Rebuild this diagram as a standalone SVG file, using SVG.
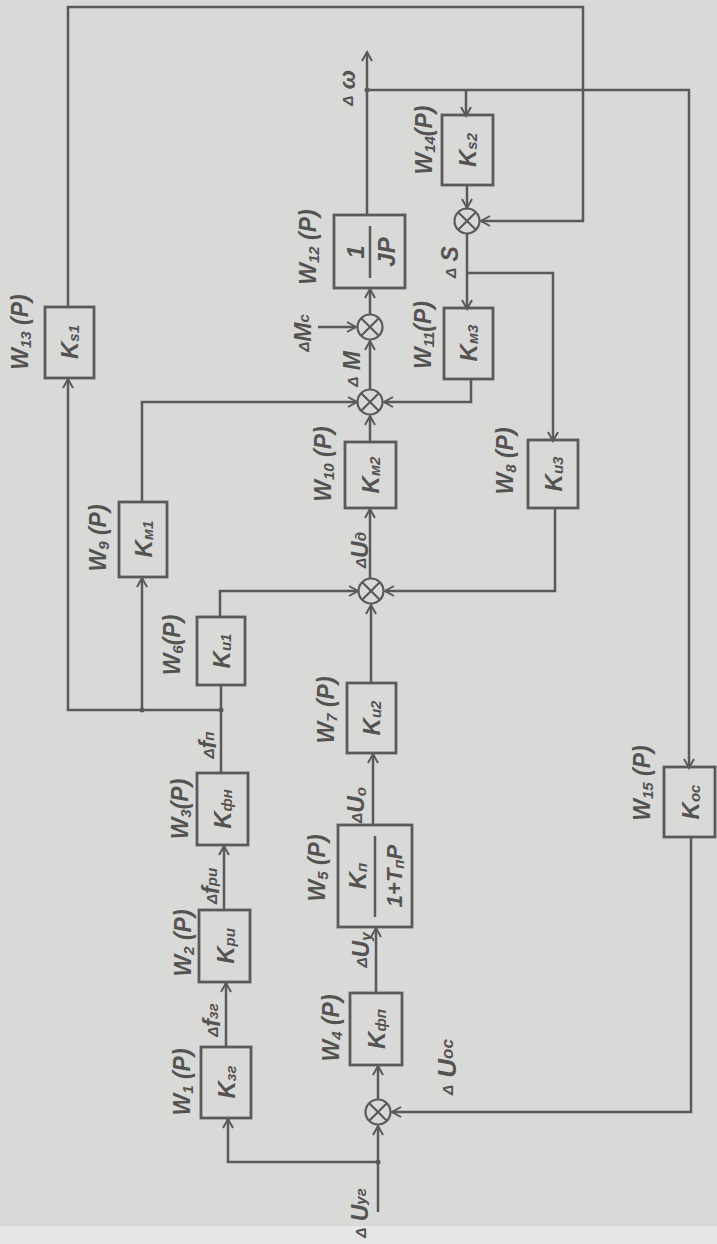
<svg xmlns="http://www.w3.org/2000/svg" width="717" height="1244" viewBox="0 0 717 1244">
<defs>
<style>
.bg{fill:#d9d9d7}
.ln{fill:none;stroke:#5a5a5a;stroke-width:2.5;stroke-linejoin:miter}
.bx{fill:none;stroke:#5a5a5a;stroke-width:2.8}
.sum{fill:none;stroke:#5a5a5a;stroke-width:2.2}
.dot{fill:#5a5a5a}
.t{font-family:"Liberation Sans",Arial,sans-serif;font-style:italic;font-weight:bold;fill:#535353;font-size:23px;text-anchor:middle;dominant-baseline:central}
.k{font-size:24px}
.s{font-size:15px}
.d{font-size:15px}
</style>
<marker id="a" markerUnits="userSpaceOnUse" markerWidth="14" markerHeight="14" refX="10" refY="6" orient="auto">
<path d="M1,1 L10,6 L1,11" fill="none" stroke="#5a5a5a" stroke-width="2"/>
</marker>
</defs>
<rect class="bg" x="0" y="0" width="717" height="1244"/>
<rect x="0" y="1226" width="717" height="18" fill="#e6e6e4"/>

<g id="connectors">
<path class="ln" d="M378,1212 L378,1126" marker-end="url(#a)"/>
<path class="ln" d="M378,1162 L228,1162 L228,1119" marker-end="url(#a)"/>
<path class="ln" d="M226,1047 L226,983" marker-end="url(#a)"/>
<path class="ln" d="M224,910 L224,846" marker-end="url(#a)"/>
<path class="ln" d="M221,773 L221,685"/>
<path class="ln" d="M221,710 L68,710 L68,379" marker-end="url(#a)"/>
<path class="ln" d="M142,710 L142,578" marker-end="url(#a)"/>
<path class="ln" d="M68,307 L68,7 L583,7 L583,221 L481,221" marker-end="url(#a)"/>
<path class="ln" d="M142,502 L142,402 L357,402" marker-end="url(#a)"/>
<path class="ln" d="M220,617 L220,591 L358,591" marker-end="url(#a)"/>
<path class="ln" d="M555,508 L555,591 L385,591" marker-end="url(#a)"/>
<path class="ln" d="M371,683 L371,605" marker-end="url(#a)"/>
<path class="ln" d="M373,825 L373,754" marker-end="url(#a)"/>
<path class="ln" d="M376,993 L376,928" marker-end="url(#a)"/>
<path class="ln" d="M378,1099 L378,1066" marker-end="url(#a)"/>
<path class="ln" d="M370,578 L370,509" marker-end="url(#a)"/>
<path class="ln" d="M370,442 L370,416" marker-end="url(#a)"/>
<path class="ln" d="M471,379 L471,402 L384,402" marker-end="url(#a)"/>
<path class="ln" d="M370,389 L370,341" marker-end="url(#a)"/>
<path class="ln" d="M318,327 L356,327" marker-end="url(#a)"/>
<path class="ln" d="M370,314 L370,289" marker-end="url(#a)"/>
<path class="ln" d="M367,215 L367,52" marker-end="url(#a)"/>
<path class="ln" d="M367,90 L689,90 L689,768" marker-end="url(#a)"/>
<path class="ln" d="M466,90 L466,116" marker-end="url(#a)"/>
<path class="ln" d="M467,185 L467,208" marker-end="url(#a)"/>
<path class="ln" d="M467,234 L467,309" marker-end="url(#a)"/>
<path class="ln" d="M467,273 L553,273 L553,441" marker-end="url(#a)"/>
<path class="ln" d="M691,837 L691,1112 L392,1112" marker-end="url(#a)"/>
<circle class="dot" cx="221" cy="710" r="2.5"/>
<circle class="dot" cx="142" cy="710" r="2.5"/>
<circle class="dot" cx="378" cy="1162" r="2.5"/>
<circle class="dot" cx="367" cy="90" r="2.5"/>
</g>

<g id="sum_dS"><circle class="sum" cx="467" cy="221" r="12.5"/><path class="sum" d="M458.2,212.2 L475.8,229.8 M475.8,212.2 L458.2,229.8"/></g>
<g id="sum_dMc"><circle class="sum" cx="370" cy="327" r="12.5"/><path class="sum" d="M361.2,318.2 L378.8,335.8 M378.8,318.2 L361.2,335.8"/></g>
<g id="sum_dM"><circle class="sum" cx="370" cy="402" r="12.5"/><path class="sum" d="M361.2,393.2 L378.8,410.8 M378.8,393.2 L361.2,410.8"/></g>
<g id="sum_dUd"><circle class="sum" cx="371" cy="591" r="12.5"/><path class="sum" d="M362.2,582.2 L379.8,599.8 M379.8,582.2 L362.2,599.8"/></g>
<g id="sum_in"><circle class="sum" cx="378" cy="1112" r="12.5"/><path class="sum" d="M369.2,1103.2 L386.8,1120.8 M386.8,1103.2 L369.2,1120.8"/></g>

<g id="Ks1"><rect class="bx" x="45" y="307" width="49" height="71"/>
<text class="t k" transform="translate(69,342) rotate(-90)">K<tspan class="s" dy="4">s1</tspan></text></g>
<g id="Ks2"><rect class="bx" x="442" y="115" width="51" height="70"/>
<text class="t k" transform="translate(467,150) rotate(-90)">K<tspan class="s" dy="4">s2</tspan></text></g>
<g id="JP"><rect class="bx" x="334" y="215" width="71" height="73"/>
<path class="ln" d="M370,226 L370,278"/>
<text class="t k" transform="translate(355,252) rotate(-90)">1</text>
<text class="t k" transform="translate(386,252) rotate(-90)">JP</text></g>
<g id="Km3"><rect class="bx" x="444" y="308" width="49" height="71"/>
<text class="t k" transform="translate(468,343) rotate(-90)">K<tspan class="s" dy="4">м3</tspan></text></g>
<g id="Km2"><rect class="bx" x="345" y="442" width="51" height="66"/>
<text class="t k" transform="translate(370,475) rotate(-90)">K<tspan class="s" dy="4">м2</tspan></text></g>
<g id="Ku3"><rect class="bx" x="528" y="440" width="50" height="68"/>
<text class="t k" transform="translate(553,474) rotate(-90)">K<tspan class="s" dy="4">и3</tspan></text></g>
<g id="Km1"><rect class="bx" x="119" y="502" width="48" height="75"/>
<text class="t k" transform="translate(143,539) rotate(-90)">K<tspan class="s" dy="4">м1</tspan></text></g>
<g id="Ku1"><rect class="bx" x="197" y="617" width="48" height="68"/>
<text class="t k" transform="translate(221,651) rotate(-90)">K<tspan class="s" dy="4">и1</tspan></text></g>
<g id="Ku2"><rect class="bx" x="347" y="683" width="49" height="70"/>
<text class="t k" transform="translate(371,718) rotate(-90)">K<tspan class="s" dy="4">и2</tspan></text></g>
<g id="Kfn"><rect class="bx" x="197" y="773" width="51" height="72"/>
<text class="t k" transform="translate(222,809) rotate(-90)">K<tspan class="s" dy="4">фн</tspan></text></g>
<g id="Kp"><rect class="bx" x="338" y="825" width="74" height="102"/>
<path class="ln" d="M375,836 L375,917"/>
<text class="t k" transform="translate(357,876) rotate(-90)">K<tspan class="s" dy="4">п</tspan></text>
<text class="t k" style="font-size:22px" transform="translate(394,876) rotate(-90)">1+T<tspan class="s" dy="4">п</tspan><tspan dy="-4">P</tspan></text></g>
<g id="Kru"><rect class="bx" x="199" y="910" width="51" height="72"/>
<text class="t k" transform="translate(225,946) rotate(-90)">K<tspan class="s" dy="4">ри</tspan></text></g>
<g id="Kfp"><rect class="bx" x="350" y="993" width="52" height="72"/>
<text class="t k" transform="translate(376,1029) rotate(-90)">K<tspan class="s" dy="4">фп</tspan></text></g>
<g id="Kzg"><rect class="bx" x="201" y="1047" width="50" height="71"/>
<text class="t k" transform="translate(226,1082) rotate(-90)">K<tspan class="s" dy="4">зг</tspan></text></g>
<g id="Koc"><rect class="bx" x="664" y="767" width="51" height="70"/>
<text class="t k" transform="translate(690,802) rotate(-90)">K<tspan class="s" dy="4">ос</tspan></text></g>

<g id="labels">
<text class="t" transform="translate(20,332) rotate(-90)">W<tspan class="s" dy="5">13</tspan><tspan dy="-5"> (P)</tspan></text>
<text class="t" transform="translate(424,140) rotate(-90)">W<tspan class="s" dy="5">14</tspan><tspan dy="-5">(P)</tspan></text>
<text class="t" transform="translate(308,247) rotate(-90)">W<tspan class="s" dy="5">12</tspan><tspan dy="-5"> (P)</tspan></text>
<text class="t" transform="translate(423,335) rotate(-90)">W<tspan class="s" dy="5">11</tspan><tspan dy="-5">(P)</tspan></text>
<text class="t" transform="translate(450,262) rotate(-90)"><tspan class="d">Δ</tspan> S</text>
<text class="t" transform="translate(347,88) rotate(-90)"><tspan class="d">Δ</tspan> ω</text>
<text class="t" transform="translate(303,333) rotate(-90)"><tspan class="d">Δ</tspan>M<tspan class="s">с</tspan></text>
<text class="t" transform="translate(352,369) rotate(-90)"><tspan class="d">Δ</tspan> M</text>
<text class="t" transform="translate(323,464) rotate(-90)">W<tspan class="s" dy="5">10</tspan><tspan dy="-5"> (P)</tspan></text>
<text class="t" transform="translate(505,461) rotate(-90)">W<tspan class="s" dy="5">8</tspan><tspan dy="-5"> (P)</tspan></text>
<text class="t" transform="translate(98,538) rotate(-90)">W<tspan class="s" dy="5">9</tspan><tspan dy="-5"> (P)</tspan></text>
<text class="t" transform="translate(172,645) rotate(-90)">W<tspan class="s" dy="5">6</tspan><tspan dy="-5">(P)</tspan></text>
<text class="t" transform="translate(360,550) rotate(-90)"><tspan class="d">Δ</tspan>U<tspan class="s">д</tspan></text>
<text class="t" transform="translate(326,710) rotate(-90)">W<tspan class="s" dy="5">7</tspan><tspan dy="-5"> (P)</tspan></text>
<text class="t" transform="translate(208,745) rotate(-90)"><tspan class="d">Δ</tspan>f<tspan class="s">п</tspan></text>
<text class="t" transform="translate(180,809) rotate(-90)">W<tspan class="s" dy="5">3</tspan><tspan dy="-5">(P)</tspan></text>
<text class="t" transform="translate(356,805) rotate(-90)"><tspan class="d">Δ</tspan>U<tspan class="s" dy="4">о</tspan></text>
<text class="t" transform="translate(642,783) rotate(-90)">W<tspan class="s" dy="5">15</tspan><tspan dy="-5"> (P)</tspan></text>
<text class="t" transform="translate(317,868) rotate(-90)">W<tspan class="s" dy="5">5</tspan><tspan dy="-5"> (P)</tspan></text>
<text class="t" transform="translate(211,886) rotate(-90)"><tspan class="d">Δ</tspan>f<tspan class="s">ри</tspan></text>
<text class="t" transform="translate(183,943) rotate(-90)">W<tspan class="s" dy="5">2</tspan><tspan dy="-5"> (P)</tspan></text>
<text class="t" transform="translate(361,950) rotate(-90)"><tspan class="d">Δ</tspan>U<tspan class="s" dy="4">у</tspan></text>
<text class="t" transform="translate(331,1028) rotate(-90)">W<tspan class="s" dy="5">4</tspan><tspan dy="-5"> (P)</tspan></text>
<text class="t" transform="translate(212,1020) rotate(-90)"><tspan class="d">Δ</tspan>f<tspan class="s">зг</tspan></text>
<text class="t" transform="translate(182,1082) rotate(-90)">W<tspan class="s" dy="5">1</tspan><tspan dy="-5"> (P)</tspan></text>
<text class="t" transform="translate(447,1067) rotate(-90)" style="font-size:26px"><tspan class="d">Δ</tspan> U<tspan class="s" style="font-size:17px">ос</tspan></text>
<text class="t" transform="translate(360,1213) rotate(-90)"><tspan class="d">Δ</tspan> U<tspan class="s">уг</tspan></text>
</g>
</svg>
